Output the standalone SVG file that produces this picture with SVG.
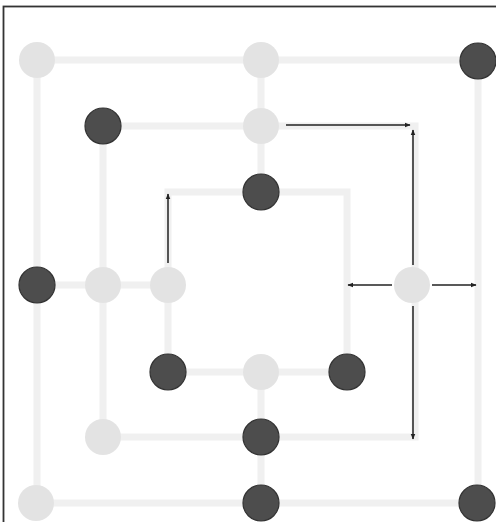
<svg xmlns="http://www.w3.org/2000/svg" width="496" height="522" viewBox="0 0 496 522">
<style>
.board{fill:none;stroke:#f0f0f0;stroke-width:7}
.light{fill:#e3e3e3}
.dark{fill:#4d4d4d;stroke:#333;stroke-width:1.2}
.arrow{stroke:#222;stroke-width:1.5;fill:none;marker-end:url(#ah)}
</style>
<defs>
<marker id="ah" viewBox="0 0 10 10" refX="9" refY="5" markerWidth="4" markerHeight="4" orient="auto" markerUnits="strokeWidth">
<path d="M0,1 L10,5 L0,9 Z" fill="#222"/>
</marker>
</defs>
<rect x="0" y="0" width="496" height="522" fill="#fff"/>
<rect x="3.5" y="6.5" width="600" height="600" fill="none" stroke="#333" stroke-width="1.8"/>
<g id="board">
<rect class="board" x="37" y="60" width="441" height="443"/>
<rect class="board" x="103" y="126" width="312" height="311"/>
<rect class="board" x="168" y="192" width="179" height="180"/>
<line class="board" x1="261" y1="60" x2="261" y2="192"/>
<line class="board" x1="261" y1="372" x2="261" y2="503"/>
<line class="board" x1="37" y1="285" x2="168" y2="285"/>
</g>
<g id="connectors">
<line class="arrow" x1="286" y1="125" x2="410" y2="125"/>
<line class="arrow" x1="413" y1="265" x2="413" y2="130"/>
<line class="arrow" x1="168" y1="263" x2="168" y2="194"/>
<line class="arrow" x1="392" y1="285" x2="348" y2="285"/>
<line class="arrow" x1="432" y1="285" x2="476" y2="285"/>
<line class="arrow" x1="413" y1="306" x2="413" y2="439"/>
</g>
<g id="n-o-tl"><circle class="light" cx="37" cy="60" r="18"/></g>
<g id="n-o-tm"><circle class="light" cx="261" cy="60" r="18"/></g>
<g id="n-o-tr"><circle class="dark" cx="478" cy="61" r="18"/></g>
<g id="n-o-ml"><circle class="dark" cx="37" cy="285" r="18"/></g>
<g id="n-o-bl"><circle class="light" cx="36" cy="503" r="18"/></g>
<g id="n-o-bm"><circle class="dark" cx="261" cy="503" r="18"/></g>
<g id="n-o-br"><circle class="dark" cx="477" cy="503" r="18"/></g>
<g id="n-m-tl"><circle class="dark" cx="103" cy="126" r="18"/></g>
<g id="n-m-tm"><circle class="light" cx="261" cy="126" r="18"/></g>
<g id="n-m-ml"><circle class="light" cx="103" cy="285" r="18"/></g>
<g id="n-m-mr"><circle class="light" cx="412" cy="285" r="18"/></g>
<g id="n-m-bl"><circle class="light" cx="103" cy="437" r="18"/></g>
<g id="n-m-bm"><circle class="dark" cx="261" cy="437" r="18"/></g>
<g id="n-i-tm"><circle class="dark" cx="261" cy="192" r="18"/></g>
<g id="n-i-ml"><circle class="light" cx="168" cy="285" r="18"/></g>
<g id="n-i-bl"><circle class="dark" cx="168" cy="372" r="18"/></g>
<g id="n-i-bm"><circle class="light" cx="261" cy="372" r="18"/></g>
<g id="n-i-br"><circle class="dark" cx="347" cy="372" r="18"/></g>
</svg>
